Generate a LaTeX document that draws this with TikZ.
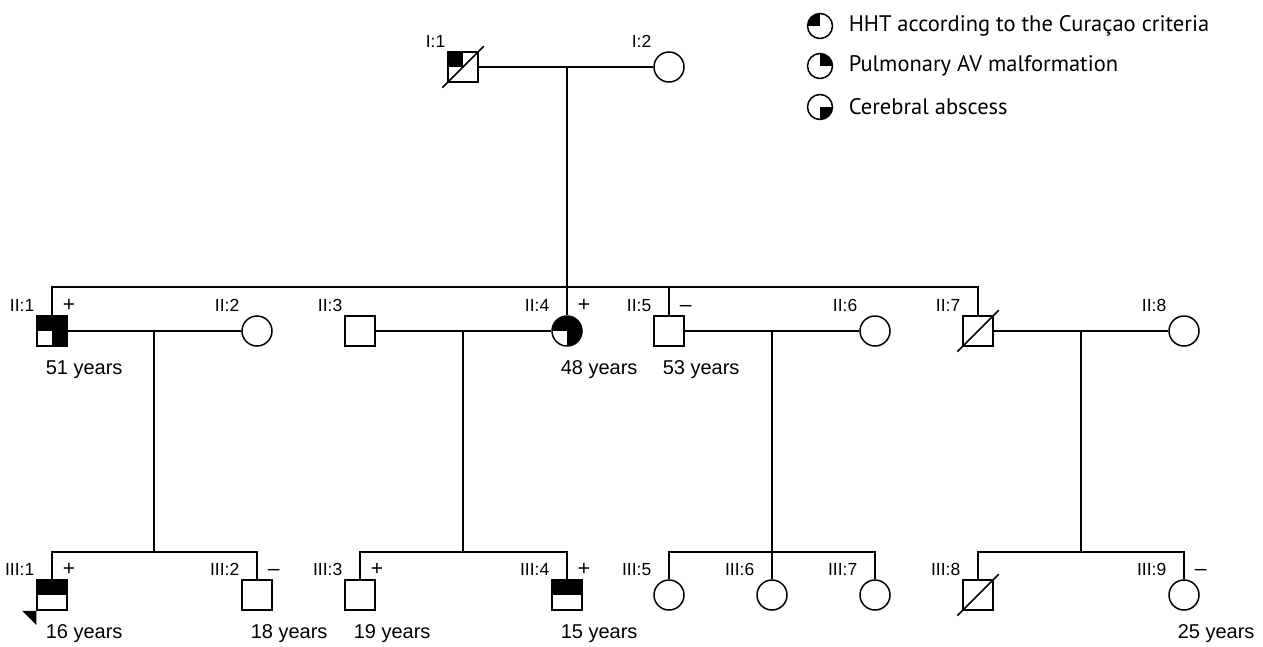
\documentclass[tikz,border=0pt]{standalone}
\usepackage{fontspec}
\setmainfont{Liberation Sans}
\newfontfamily\keyfont{PT Sans}
\usetikzlibrary{positioning}

\begin{document}
\begin{tikzpicture}[x=1pt, y=-1pt, line width=1.5pt,
    male/.style={draw, rectangle, minimum size=30pt, inner sep=0pt},
    female/.style={draw, circle, minimum size=30pt, inner sep=0pt},
    hht/.style={path picture={\fill (path picture bounding box.center) rectangle (path picture bounding box.north west);}},
    pav/.style={path picture={\fill (path picture bounding box.center) rectangle (path picture bounding box.north east);}},
    cab/.style={path picture={\fill (path picture bounding box.center) rectangle (path picture bounding box.south east);}},
    hhtpav/.style={path picture={\fill (path picture bounding box.west) rectangle (path picture bounding box.north east);}},
    allthree/.style={path picture={\fill (path picture bounding box.west) rectangle (path picture bounding box.north east);
        \fill (path picture bounding box.center) rectangle (path picture bounding box.south east);}},
    idlbl/.style={anchor=base east, inner sep=0pt, font=\fontsize{17.5}{20}\selectfont},
    test/.style={anchor=base west, inner sep=0pt, font=\fontsize{21}{24}\selectfont},
    age/.style={anchor=base west, inner sep=0pt, font=\fontsize{20}{24}\selectfont},
    keytxt/.style={anchor=west, inner sep=0pt, font=\keyfont\fontsize{22.5}{26}\selectfont}]

  \useasboundingbox (0,0) rectangle (1263,646);

  % generation I
  \node[male, hht] (I1) at (463,67) {};
  \node[female] (I2) at (669,67) {};

  % generation II
  \node[male, allthree] (II1) at (52,331) {};
  \node[female] (II2) at (257,331) {};
  \node[male] (II3) at (360,331) {};
  \node[female, allthree] (II4) at (567,331) {};
  \node[male] (II5) at (669,331) {};
  \node[female] (II6) at (875,331) {};
  \node[male] (II7) at (978,331) {};
  \node[female] (II8) at (1184,331) {};

  % generation III
  \node[male, hhtpav] (III1) at (52,595) {};
  \node[male] (III2) at (257,595) {};
  \node[male] (III3) at (360,595) {};
  \node[male, hhtpav] (III4) at (567,595) {};
  \node[female] (III5) at (669,595) {};
  \node[female] (III6) at (772,595) {};
  \node[female] (III7) at (875,595) {};
  \node[male] (III8) at (978,595) {};
  \node[female] (III9) at (1184,595) {};

  % ids
  \foreach \n/\t in {I1/I:1, I2/I:2, II1/II:1, II2/II:2, II3/II:3, II4/II:4,
      II5/II:5, II6/II:6, II7/II:7, II8/II:8, III1/III:1, III2/III:2,
      III3/III:3, III4/III:4, III5/III:5, III6/III:6, III7/III:7,
      III8/III:8, III9/III:9}
    \node[idlbl] (id\n) at ([xshift=-17pt, yshift=4pt]\n.north) {\t};

  % mutation test
  \foreach \n/\t in {II1/+, II4/+, II5/--, III1/+, III2/--, III3/+, III4/+, III9/--}
    \node[test] (ts\n) at ([xshift=10pt, yshift=4pt]\n.north) {\t};

  % ages
  \foreach \n/\t in {II1/51, II4/48, II5/53, III1/16, III2/18, III3/19, III4/15, III9/25}
    \node[age] (ag\n) at ([xshift=-7pt, yshift=-28pt]\n.south) {\t\ years};

  % deceased
  \draw ([shift={(-5,5)}]I1.south west) -- ([shift={(5,-5)}]I1.north east);
  \draw ([shift={(-5,5)}]II7.south west) -- ([shift={(5,-5)}]II7.north east);
  \draw ([shift={(-5,5)}]III8.south west) -- ([shift={(5,-5)}]III8.north east);

  % proband
  \fill (III1.south west) -- ++(-14,0) -- ++(14,14) -- cycle;

  % matings and descents
  \coordinate (m1) at (567,67);
  \coordinate (s1) at (567,287);
  \draw (I1.east) -- (I2.west);
  \draw (m1) -- (s1);
  \draw (II1.north) |- (s1) -| (II7.north);
  \draw (II4.north) -- (s1);
  \draw (II5.north) -- (II5.north |- s1);

  \draw (II1.east) -- (II2.west);
  \draw (II3.east) -- (II4.west);
  \draw (II5.east) -- (II6.west);
  \draw (II7.east) -- (II8.west);

  \coordinate (d1) at (154,331);
  \coordinate (d2) at (463,331);
  \coordinate (d3) at (772,331);
  \coordinate (d4) at (1081,331);
  \coordinate (t1) at (154,552);
  \coordinate (t2) at (463,552);
  \coordinate (t3) at (772,552);
  \coordinate (t4) at (1081,552);
  \foreach \i in {1,...,4}
    \draw (d\i) -- (t\i);

  \draw (III1.north) |- (t1) -| (III2.north);
  \draw (III3.north) |- (t2) -| (III4.north);
  \draw (III5.north) |- (t3) -| (III7.north);
  \draw (t3) -- (III6.north);
  \draw (III8.north) |- (t4) -| (III9.north);

  % key
  \node[female, hht, minimum size=25pt] (k1) at (820,26) {};
  \node[female, pav, minimum size=25pt] (k2) at (820,66) {};
  \node[female, cab, minimum size=25pt] (k3) at (820,107) {};
  \node[keytxt] (kt1) at (848,26) {HHT according to the Curaçao criteria};
  \node[keytxt] (kt2) at (848,66) {Pulmonary AV malformation};
  \node[keytxt] (kt3) at (848,107) {Cerebral abscess};

\end{tikzpicture}
\end{document}
